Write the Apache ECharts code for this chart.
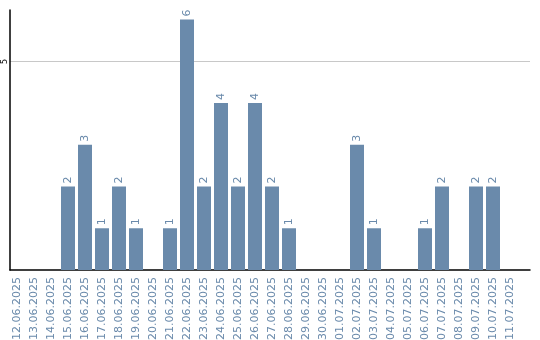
<!DOCTYPE html>
<html><head><meta charset="utf-8">
<script src="https://cdn.jsdelivr.net/npm/echarts@6/dist/echarts.min.js"></script>
<style>html,body{margin:0;padding:0;background:#fff}#c{width:540px;height:340px}</style>
</head><body><div id="c"></div>
<script>
const categories = ["12.06.2025","13.06.2025","14.06.2025","15.06.2025","16.06.2025","17.06.2025","18.06.2025","19.06.2025","20.06.2025","21.06.2025","22.06.2025","23.06.2025","24.06.2025","25.06.2025","26.06.2025","27.06.2025","28.06.2025","29.06.2025","30.06.2025","01.07.2025","02.07.2025","03.07.2025","04.07.2025","05.07.2025","06.07.2025","07.07.2025","08.07.2025","09.07.2025","10.07.2025","11.07.2025"];
const values = [0,0,0,2,3,1,2,1,0,1,6,2,4,2,4,2,1,0,0,0,3,1,0,0,1,2,0,2,2,0];
const yTicks = [5];
const yMax = 6.23;
const color = '#6a8aab';
const chart = echarts.init(document.getElementById('c'), null, {renderer:'canvas'});
chart.setOption({
  animation:false,
  grid:[
    {left:8.5,width:510,top:10,bottom:70,containLabel:false,outerBoundsMode:'none'},
    {left:10,right:10,top:10,bottom:70,containLabel:false,outerBoundsMode:'none'}
  ],
  xAxis:[
    {gridIndex:0,type:'category',data:categories,
      axisLine:{show:false},axisTick:{show:false},
      axisLabel:{rotate:90,interval:0,color:color,fontSize:11,fontFamily:'DejaVu Sans',margin:7}},
    {gridIndex:1,type:'value',min:0,max:1,
      axisLine:{show:true,onZero:false,lineStyle:{color:'#000',width:1.5}},axisTick:{show:false},
      axisLabel:{show:false},splitLine:{show:false}}
  ],
  yAxis:[
    {gridIndex:0,type:'value',min:0,max:yMax,show:false},
    {gridIndex:1,type:'value',min:0,max:yMax,interval:5,
      axisLine:{show:true,lineStyle:{color:'#000',width:1.5}},axisTick:{show:false},
      splitLine:{show:true,showMinLine:false,showMaxLine:false,lineStyle:{color:'#c8c8c8',width:1}},
      axisLabel:{rotate:90,color:'#000',fontSize:8,fontFamily:'DejaVu Sans',margin:1,
        formatter:v=>yTicks.includes(v)?String(v):''}}
  ],
  series:[{type:'bar',xAxisIndex:0,yAxisIndex:0,data:values.map(v=>v===0?null:v),barWidth:14,
    itemStyle:{color:color},
    label:{show:true,position:'top',rotate:90,align:'left',verticalAlign:'middle',distance:3,
      color:color,fontSize:11,fontFamily:'DejaVu Sans'}}]
});
</script></body></html>
